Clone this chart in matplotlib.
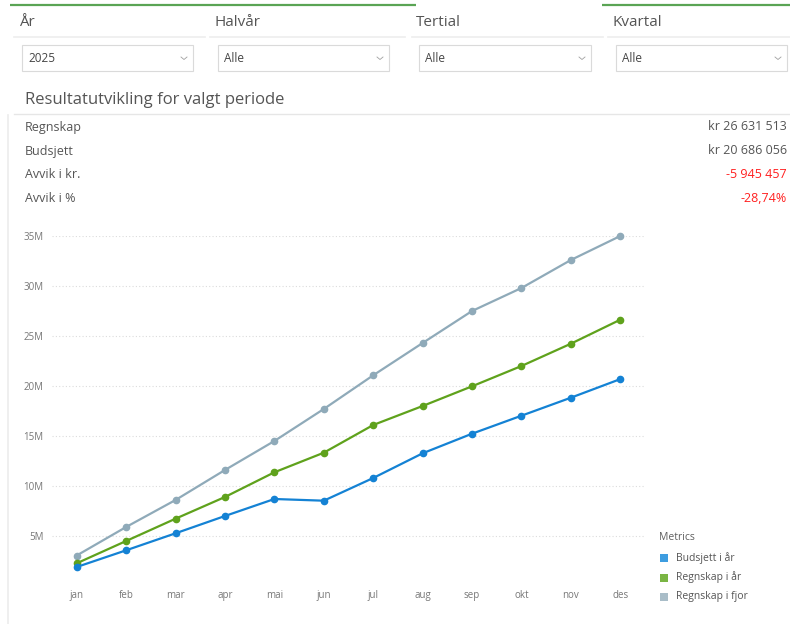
import matplotlib
matplotlib.use("Agg")
import matplotlib.pyplot as plt
from matplotlib.patches import Rectangle
from matplotlib.ticker import FuncFormatter

plt.rcParams['font.family'] = ['Open Sans', 'DejaVu Sans']

# ---- data ----
months = ['jan', 'feb', 'mar', 'apr', 'mai', 'jun',
          'jul', 'aug', 'sep', 'okt', 'nov', 'des']
budsjett_i_aar = [1.90, 3.57, 5.27, 7.00, 8.70, 8.53,
                  10.80, 13.27, 15.23, 17.03, 18.83, 20.69]   # millioner
regnskap_i_aar = [2.27, 4.50, 6.73, 8.90, 11.37, 13.33,
                  16.10, 18.00, 19.97, 22.00, 24.23, 26.63]
regnskap_i_fjor = [3.05, 5.90, 8.60, 11.60, 14.50, 17.70,
                   21.07, 24.30, 27.50, 29.80, 32.60, 35.00]
series_names = ['Budsjett i år', 'Regnskap i år', 'Regnskap i fjor']
yticks = [5, 10, 15, 20, 25, 30, 35]

slicer_titles = ['År', 'Halvår', 'Tertial', 'Kvartal']
slicer_values = ['2025', 'Alle', 'Alle', 'Alle']

kpi_labels = ['Regnskap', 'Budsjett', 'Avvik i kr.', 'Avvik i %']
kpi_values = ['kr 26 631 513', 'kr 20 686 056', '-5 945 457', '-28,74%']
kpi_red = [False, False, True, True]

line_colors = ['#1482d4', '#5fa21c', '#8faab9']
legend_colors = ['#3e9de0', '#7ab544', '#a9bdc8']

W, H = 790, 624
fig = plt.figure(figsize=(W / 100, H / 100), dpi=100)

# overlay in pixel coordinates for the report frame
bg = fig.add_axes([0, 0, 1, 1], zorder=0)
bg.set_xlim(0, W)
bg.set_ylim(H, 0)
bg.axis('off')

# green accent lines on top
bg.plot([10, 416], [5, 5], color='#5aa454', lw=1.6, solid_capstyle='butt')
bg.plot([602, 790], [5, 5], color='#5aa454', lw=1.6, solid_capstyle='butt')

# slicers
hdr_x = [19, 215, 416, 613]
line_spans = [(14, 205), (210, 405), (412, 603), (608, 790)]
box_spans = [(22, 193), (218, 389), (419, 591), (616, 787)]
for i in range(4):
    bg.text(hdr_x[i], 23, slicer_titles[i], fontsize=11, color='#555555',
            va='center', ha='left')
    a, b = line_spans[i]
    bg.plot([a, b], [37, 37], color='#ededed', lw=1.2)
    a, b = box_spans[i]
    bg.add_patch(Rectangle((a, 45), b - a, 26, fill=False,
                           edgecolor='#dadada', lw=0.8))
    bg.text(a + 6, 58.5, slicer_values[i], fontsize=8.5, color='#454545',
            va='center', ha='left')
    cx = b - 9
    bg.plot([cx - 3, cx, cx + 3], [57, 59.5, 57], color='#a0a0a0', lw=0.6)

# title + divider
bg.text(25, 100, 'Resultatutvikling for valgt periode', fontsize=12,
        color='#555555', va='center', ha='left')
bg.plot([14, 790], [114, 114], color='#e6e6e6', lw=1.0)
bg.plot([8, 8], [115, 624], color='#ececec', lw=1.2)

# KPI rows
kpi_y = [127, 151, 174, 198]
for lab, val, red, y in zip(kpi_labels, kpi_values, kpi_red, kpi_y):
    bg.text(25, y, lab, fontsize=9, color='#555555', va='center', ha='left')
    bg.text(787, y, val, fontsize=9, color='#ff2020' if red else '#555555',
            va='center', ha='right')

# ---- line chart ----
ax = fig.add_axes([52 / W, 1 - 586 / H, (645 - 52) / W, (586 - 236) / H], zorder=1)
ax.patch.set_alpha(0)
x = list(range(len(months)))
for vals, c in zip([regnskap_i_fjor, regnskap_i_aar, budsjett_i_aar],
                   [line_colors[2], line_colors[1], line_colors[0]]):
    ax.plot(x, [v * 1e6 for v in vals], color=c, lw=1.6, marker='o',
            markersize=4.5, clip_on=False)

ax.set_xlim(-0.5, 11.5)
ax.set_ylim(0, 35e6)
ax.set_yticks([t * 1e6 for t in yticks])
ax.yaxis.set_major_formatter(FuncFormatter(lambda v, p: '%dM' % round(v / 1e6)))
ax.set_xticks(x)
ax.set_xticklabels(months)
ax.tick_params(axis='both', length=0, labelsize=7, labelcolor='#777777')
ax.tick_params(axis='y', pad=6)
ax.tick_params(axis='x', pad=3)
ax.grid(axis='y', linestyle=(0, (1, 2)), color='#dcdcdc', lw=0.8)
ax.set_axisbelow(True)
for s in ax.spines.values():
    s.set_visible(False)

# legend
bg.text(659, 538, 'Metrics', fontsize=7.5, color='#606060', va='center', ha='left')
for i, (name, c) in enumerate(zip(series_names, legend_colors)):
    y = 558 + i * 19.5
    bg.add_patch(Rectangle((659.5, y - 4), 8, 8, facecolor=c, edgecolor='none'))
    bg.text(676, y, name, fontsize=7.5, color='#555555', va='center', ha='left')

fig.savefig('out.png', dpi=100)
